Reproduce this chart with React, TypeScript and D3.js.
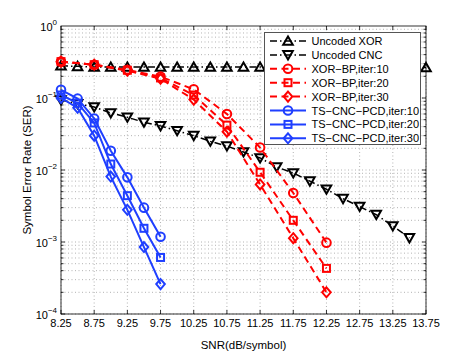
import React, { useEffect, useRef } from "react"
import * as d3 from "d3"

// SNR grid (dB/symbol)
const snrFine = [8.25, 8.5, 8.75, 9.0, 9.25, 9.5, 9.75, 10.0, 10.25, 10.5, 10.75, 11.0, 11.25, 11.5, 11.75, 12.0, 12.25, 12.5, 12.75, 13.0, 13.25, 13.5, 13.75]
const snrCoarse = [8.25, 8.75, 9.25, 9.75, 10.25, 10.75, 11.25, 11.75, 12.25]
const snrTs = [8.25, 8.5, 8.75, 9.0, 9.25, 9.5, 9.75]

const uncodedXor = [0.28, 0.275, 0.27, 0.27, 0.27, 0.27, 0.27, 0.27, 0.27, 0.27, 0.27, 0.27, 0.27, 0.27, 0.27, 0.27, 0.27, 0.27, 0.27, 0.27, 0.27, 0.27, 0.265]
const uncodedCnc = [0.094, 0.083, 0.075, 0.062, 0.054, 0.046, 0.041, 0.035, 0.030, 0.025, 0.0215, 0.0178, 0.0147, 0.011, 0.0091, 0.0070, 0.0054, 0.0040, 0.0031, 0.0024, 0.00167, 0.00114]
const xorBp10 = [0.32, 0.29, 0.245, 0.198, 0.132, 0.06, 0.0205, 0.0048, 0.00098]
const xorBp20 = [0.32, 0.29, 0.243, 0.19, 0.11, 0.042, 0.0093, 0.002, 0.00043]
const xorBp30 = [0.32, 0.29, 0.24, 0.185, 0.095, 0.034, 0.0063, 0.00113, 0.0002]
const tsCnc10 = [0.13, 0.098, 0.052, 0.0185, 0.0079, 0.0030, 0.00118]
const tsCnc20 = [0.11, 0.085, 0.045, 0.0121, 0.0044, 0.00155, 0.00061]
const tsCnc30 = [0.10, 0.073, 0.03, 0.0081, 0.0028, 0.00085, 0.00026]

const xTicks = [8.25, 8.75, 9.25, 9.75, 10.25, 10.75, 11.25, 11.75, 12.25, 12.75, 13.25, 13.75]
const yExponents = [0, -1, -2, -3, -4]

const BLACK = "#000000"
const RED = "#ff0000"
const BLUE = "#1f3fff"

const series = [
  { name: "Uncoded XOR", xs: snrFine, ys: uncodedXor, color: BLACK, dash: "7,3,1.5,3", width: 1.5, marker: "triUp" },
  { name: "Uncoded CNC", xs: snrFine.slice(0, uncodedCnc.length), ys: uncodedCnc, color: BLACK, dash: "7,3,1.5,3", width: 1.5, marker: "triDown" },
  { name: "XOR\u2212BP,iter:10", xs: snrCoarse, ys: xorBp10, color: RED, dash: "7,4.5", width: 2, marker: "circle" },
  { name: "XOR\u2212BP,iter:20", xs: snrCoarse, ys: xorBp20, color: RED, dash: "7,4.5", width: 2, marker: "square" },
  { name: "XOR\u2212BP,iter:30", xs: snrCoarse, ys: xorBp30, color: RED, dash: "7,4.5", width: 2, marker: "diamond" },
  { name: "TS\u2212CNC\u2212PCD,iter:10", xs: snrTs, ys: tsCnc10, color: BLUE, dash: null, width: 2, marker: "circle" },
  { name: "TS\u2212CNC\u2212PCD,iter:20", xs: snrTs, ys: tsCnc20, color: BLUE, dash: null, width: 2, marker: "square" },
  { name: "TS\u2212CNC\u2212PCD,iter:30", xs: snrTs, ys: tsCnc30, color: BLUE, dash: null, width: 2, marker: "diamond" },
]

function drawMarker(g, type, x, y, color) {
  let el
  if (type === "circle") {
    el = g.append("circle").attr("cx", x).attr("cy", y).attr("r", 4.3)
  } else if (type === "square") {
    el = g.append("rect").attr("x", x - 3.5).attr("y", y - 3.5).attr("width", 7).attr("height", 7)
  } else if (type === "diamond") {
    el = g.append("path").attr("d", `M${x},${y - 5}L${x + 4.3},${y}L${x},${y + 5}L${x - 4.3},${y}Z`)
  } else if (type === "triUp") {
    el = g.append("path").attr("d", `M${x},${y - 4.5}L${x + 4.8},${y + 3.8}L${x - 4.8},${y + 3.8}Z`)
  } else {
    el = g.append("path").attr("d", `M${x},${y + 4.5}L${x + 4.8},${y - 3.8}L${x - 4.8},${y - 3.8}Z`)
  }
  el.attr("fill", "none").attr("stroke", color).attr("stroke-width", 2)
}

function SerChart() {
  const svgRef = useRef(null)

  useEffect(() => {
    const svg = d3.select(svgRef.current)
    svg.selectAll("*").remove()
    const font = "'Liberation Sans', Arial, sans-serif"

    const left = 61, right = 426, top = 26, bottom = 314

    const x = d3.scaleLinear().domain([8.25, 13.75]).range([left, right])
    const y = d3.scaleLog().domain([1e-4, 1]).range([bottom, top])

    svg.append("rect").attr("width", 471).attr("height", 354).attr("fill", "#fff")

    // grid
    const grid = svg.append("g").attr("stroke", "#a0a0a0").attr("stroke-width", 0.8).attr("stroke-dasharray", "1,2.5")
    xTicks.forEach(t => {
      grid.append("line").attr("x1", x(t)).attr("x2", x(t)).attr("y1", top).attr("y2", bottom)
    })
    const minorY = []
    for (let e = -4; e < 0; e++) for (let m = 1; m < 10; m++) minorY.push(m * Math.pow(10, e))
    minorY.forEach(v => {
      grid.append("line").attr("x1", left).attr("x2", right).attr("y1", y(v)).attr("y2", y(v))
    })

    // ticks (inside, all four sides)
    const ticks = svg.append("g").attr("stroke", "#000").attr("stroke-width", 0.8)
    xTicks.forEach(t => {
      ticks.append("line").attr("x1", x(t)).attr("x2", x(t)).attr("y1", bottom).attr("y2", bottom - 4)
      ticks.append("line").attr("x1", x(t)).attr("x2", x(t)).attr("y1", top).attr("y2", top + 4)
    })
    minorY.forEach(v => {
      const len = Number.isInteger(Math.log10(v)) ? 4 : 2.5
      ticks.append("line").attr("x1", left).attr("x2", left + len).attr("y1", y(v)).attr("y2", y(v))
      ticks.append("line").attr("x1", right).attr("x2", right - len).attr("y1", y(v)).attr("y2", y(v))
    })

    svg.append("rect").attr("x", left).attr("y", top).attr("width", right - left).attr("height", bottom - top)
      .attr("fill", "none").attr("stroke", "#000").attr("stroke-width", 0.8)

    // tick labels
    xTicks.forEach(t => {
      svg.append("text").attr("x", x(t)).attr("y", bottom + 13).attr("text-anchor", "middle")
        .attr("font-family", font).attr("font-size", 11).text(t.toFixed(2))
    })
    yExponents.forEach(e => {
      const txt = svg.append("text").attr("x", left - 4).attr("y", y(Math.pow(10, e)) + 5)
        .attr("text-anchor", "end").attr("font-family", font).attr("font-size", 11)
      txt.append("tspan").text("10")
      txt.append("tspan").attr("dy", -6).attr("font-size", 8).text(e === 0 ? "0" : "\u2212" + Math.abs(e))
    })

    // axis titles
    svg.append("text").attr("x", (left + right) / 2).attr("y", 349).attr("text-anchor", "middle")
      .attr("font-family", font).attr("font-size", 11.5).text("SNR(dB/symbol)")
    svg.append("text").attr("transform", `translate(31,${(top + bottom) / 2}) rotate(-90)`).attr("text-anchor", "middle")
      .attr("font-family", font).attr("font-size", 11.5).text("Symbol Error Rate (SER)")

    // series
    const line = d3.line().x(d => x(d[0])).y(d => y(d[1]))
    series.forEach(s => {
      const pts = s.xs.map((v, i) => [v, s.ys[i]])
      svg.append("path").attr("d", line(pts)).attr("fill", "none").attr("stroke", s.color)
        .attr("stroke-width", s.width).attr("stroke-dasharray", s.dash)
      const mg = svg.append("g")
      pts.forEach(p => drawMarker(mg, s.marker, x(p[0]), y(p[1]), s.color))
    })

    // legend
    const lg = svg.append("g")
    lg.append("rect").attr("x", 264.5).attr("y", 32.5).attr("width", 156).attr("height", 112)
      .attr("fill", "#fff").attr("stroke", "#555").attr("stroke-width", 1)
    series.forEach((s, i) => {
      const ly = 41 + i * 13.9
      lg.append("line").attr("x1", 270).attr("x2", 306).attr("y1", ly).attr("y2", ly)
        .attr("stroke", s.color).attr("stroke-width", s.width).attr("stroke-dasharray", s.dash)
      drawMarker(lg, s.marker, 288, ly, s.color)
      lg.append("text").attr("x", 311.5).attr("y", ly + 4).attr("font-family", font).attr("font-size", 11).text(s.name)
    })
  }, [])

  return <svg ref={svgRef} width={471} height={354} style={{ position: "absolute", left: 0, top: 0 }}></svg>
}

export default function App() {
  return <SerChart />
}
